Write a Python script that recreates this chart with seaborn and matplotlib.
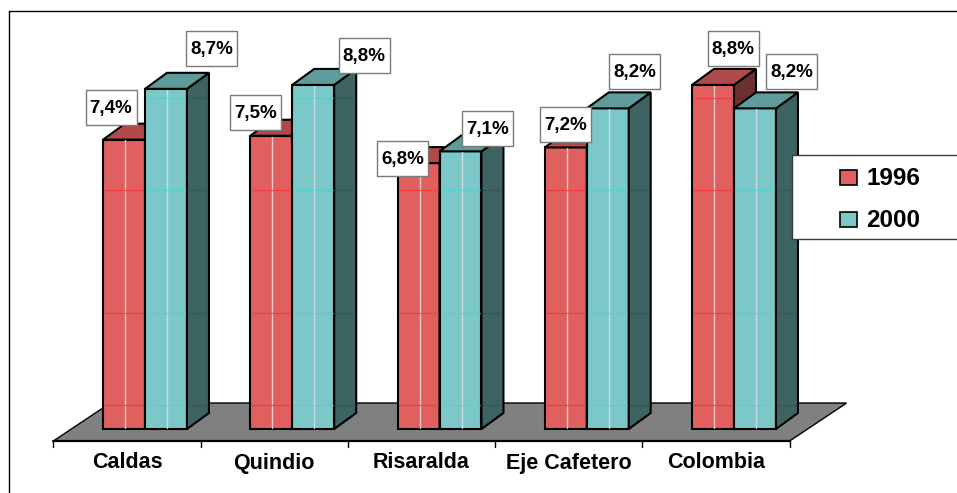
import matplotlib
matplotlib.use("Agg")
import matplotlib.pyplot as plt
import numpy as np
import pandas as pd
import seaborn as sns
from matplotlib.patches import Polygon, Rectangle
from matplotlib.lines import Line2D
from matplotlib.transforms import Affine2D

# ---- data -------------------------------------------------------------
regions = ["Caldas", "Quindio", "Risaralda", "Eje Cafetero", "Colombia"]
years = ["1996", "2000"]
rate_1996 = [7.4, 7.5, 6.8, 7.2, 8.8]
rate_2000 = [8.7, 8.8, 7.1, 8.2, 8.2]

df = pd.DataFrame({
    "region": regions * 2,
    "year": [years[0]] * len(regions) + [years[1]] * len(regions),
    "rate": rate_1996 + rate_2000,
})

# ---- styling -----------------------------------------------------------
front_col = {"1996": "#E06060", "2000": "#7CC7C7"}
top_col = {"1996": "#B04A4A", "2000": "#5E9B9B"}
side_col = {"1996": "#6C3030", "2000": "#3E6363"}
grid_col = {"1996": "#F03636", "2000": "#4FD2D2"}
inner_col = {"1996": "#E9C9C9", "2000": "#C9DEDE"}

# label box nudges (pixels, relative to bar front centre / top)
label_nudge = {
    "1996": [(-13, -32), (-16, -23), (-16, -5), (0, -23), (20, -36)],
    "2000": [(46, -40), (51, -29), (27, -23), (27, -37), (37, -37)],
}

W, H = 957, 493
sns.set_theme(style="white")
plt.rcParams["font.family"] = ["Liberation Sans", "DejaVu Sans"]
plt.rcParams["font.weight"] = "bold"

fig = plt.figure(figsize=(W / 100, H / 100), dpi=100)
ax = fig.add_axes([0, 0, 1, 1])

# pixel geometry of the chart
X0, SX = 145.0, 147.25      # front-face centre of first group, group spacing
Y0, SY = 429.0, 39.1        # baseline row, pixels per percentage point
DEPTH_X, DEPTH_Y = 22.0, 16.0   # bar depth offsets (px)
FLOOR_FRONT, FLOOR_DX, FLOOR_DY = 12.0, 57.0, 38.0

px = Affine2D().scale(1 / W, -1 / H).translate(0, 1) + fig.transFigure

sns.barplot(data=df, x="region", y="rate", hue="year", hue_order=years,
            palette=front_col, saturation=1, width=0.57, gap=0,
            edgecolor="black", linewidth=1.5, errorbar=None,
            legend=False, ax=ax)

# the bar rectangles, ordered left to right
bars = [p for p in ax.patches if isinstance(p, Rectangle) and p.get_height() > 0]
bars.sort(key=lambda p: p.get_x())

ax.set_xlim((0 - X0) / SX, (W - X0) / SX)
ax.set_ylim((Y0 - H) / SY, Y0 / SY)
ax.axis("off")

dx = DEPTH_X / SX
dy = DEPTH_Y / SY
grid_levels = [0.61, 2.97, 6.10, 8.47]

# floor of the 3D plot
shift = FLOOR_FRONT * FLOOR_DX / FLOOR_DY
fl = X0 - SX * 0.5 - shift
fr = X0 + SX * (len(regions) - 0.5) - shift
fy = Y0 + FLOOR_FRONT
floor = Polygon([(fl, fy), (fr, fy), (fr + FLOOR_DX, fy - FLOOR_DY),
                 (fl + FLOOR_DX, fy - FLOOR_DY)], closed=True,
                facecolor="#808080", edgecolor="black", linewidth=1.0,
                transform=px, zorder=1)
ax.add_artist(floor)
ax.add_artist(Line2D([fl, fr], [fy, fy], color="black", lw=1.6,
                     transform=px, zorder=1.1))
for k in range(len(regions) + 1):
    tx = fl + SX * k
    ax.add_artist(Line2D([tx, tx], [fy, fy + 6], color="black", lw=1.0,
                         transform=px, zorder=1.1))

# extrude each bar into a box
for j, p in enumerate(bars):
    i = j // 2
    yr = years[j % 2]
    z = 2 + j % 2
    x0, w, h = p.get_x(), p.get_width(), p.get_height()
    p.set_zorder(z)
    ax.add_patch(Polygon([(x0 + w, 0), (x0 + w + dx, dy), (x0 + w + dx, h + dy),
                          (x0 + w, h)], closed=True, facecolor=side_col[yr],
                         edgecolor="black", linewidth=1.5, zorder=z))
    ax.add_patch(Polygon([(x0, h), (x0 + w, h), (x0 + w + dx, h + dy),
                          (x0 + dx, h + dy)], closed=True, facecolor=top_col[yr],
                         edgecolor="black", linewidth=1.5, zorder=z))
    # see-through edges and wall lines
    ax.plot([x0 + dx, x0 + dx], [0.02, h - 0.02], color=inner_col[yr], lw=1.0,
            zorder=z + 0.01)
    for lev in grid_levels:
        if lev < h - 0.05:
            ax.plot([x0 + 0.01, x0 + w - 0.01], [lev, lev], color=grid_col[yr],
                    lw=0.9, alpha=0.8, zorder=z + 0.01)
            ax.plot([x0 + w + 0.01, x0 + w + dx - 0.01], [lev, lev],
                    color="#2E5050" if yr == "2000" else "#5A2424",
                    lw=0.8, alpha=0.6, zorder=z + 0.01)
    # value label
    cx = X0 + SX * (x0 + w / 2)
    ty = Y0 - SY * h
    ox, oy = label_nudge[yr][i]
    bw, bh = 51, 35
    ax.add_artist(Rectangle((cx + ox - bw / 2, ty + oy - bh / 2), bw, bh,
                            facecolor="white", edgecolor="#7A7A7A",
                            linewidth=1.0, transform=px, zorder=5))
    ax.text(cx + ox, ty + oy + 1, f"{h:.1f}%".replace(".", ","),
            transform=px, ha="center", va="center", fontsize=13.5,
            fontweight="bold", color="black", zorder=6)

# category names under the floor
for i, name in enumerate(regions):
    ax.text(X0 + SX * i - shift, 463, name, transform=px, ha="center",
            va="center", fontsize=15.5, fontweight="bold", color="black")

# legend
ax.add_artist(Rectangle((792, 155), 200, 84, facecolor="white",
                        edgecolor="#3A3A3A", linewidth=1.0, transform=px,
                        zorder=7))
for k, yr in enumerate(years):
    yc = 177.5 + 42 * k
    ax.add_artist(Rectangle((840, yc - 7.5), 17, 15, facecolor=front_col[yr],
                            edgecolor="black", linewidth=1.2, transform=px,
                            zorder=8))
    ax.text(866, yc + 1, yr, transform=px, ha="left", va="center",
            fontsize=17.5, fontweight="bold", color="black", zorder=8)

# outer frame
ax.add_artist(Line2D([9, 9, W + 5], [H + 5, 11, 11], color="black", lw=1.0,
                     transform=px, zorder=9))

fig.savefig("out.png", dpi=100)
